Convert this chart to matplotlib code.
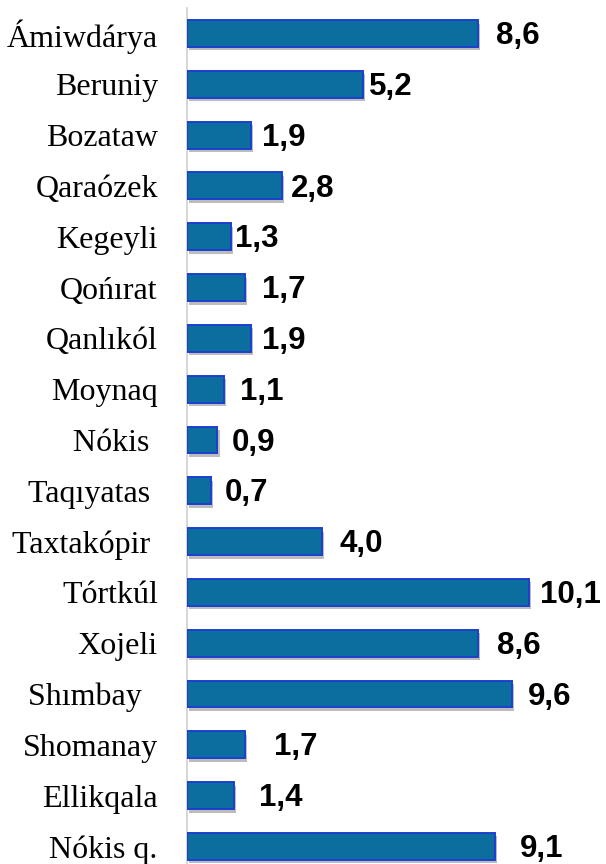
import numpy as np
import matplotlib.pyplot as plt
import matplotlib.patheffects as pe

districts = ['Ámiwdárya', 'Beruniy', 'Bozataw', 'Qaraózek', 'Kegeyli', 'Qońırat',
             'Qanlıkól', 'Moynaq', 'Nókis ', 'Taqıyatas ', 'Taxtakópir ', 'Tórtkúl',
             'Xojeli', 'Shımbay  ', 'Shomanay', 'Ellikqala', 'Nókis q.']
values = [8.6, 5.2, 1.9, 2.8, 1.3, 1.7, 1.9, 1.1, 0.9, 0.7, 4.0, 10.1, 8.6, 9.6, 1.7, 1.4, 9.1]
value_labels = ['8,6', '5,2', '1,9', '2,8', '1,3', '1,7', '1,9', '1,1', '0,9', '0,7',
                '4,0', '10,1', '8,6', '9,6', '1,7', '1,4', '9,1']
# gap between bar end and its value label (pixels)
label_gap = [18, 6, 11, 9, 4, 17, 11, 16, 14, 14, 17, 11, 19, 16, 29, 25, 25]

fig = plt.figure(figsize=(6.06, 8.64), dpi=100)
ax = fig.add_axes([187 / 606, -0.0091, 419 / 606, 0.9997])

y = np.arange(len(districts))
bars = ax.barh(y, values, height=0.53, color='#0b6e9f', edgecolor='#1c3fd0', linewidth=1.4,
               zorder=3)
for b in bars:
    b.set_path_effects([pe.SimplePatchShadow(offset=(1.5, -2.5), shadow_rgbFace='#7a7a7a', alpha=0.5),
                        pe.Normal()])

for yi, v, txt, g in zip(y, values, value_labels, label_gap):
    ax.annotate(txt, (v, yi), xytext=(g * 0.72, -7.6), textcoords='offset points',
                ha='left', va='baseline', fontsize=22.5, fontweight='bold',
                family='Liberation Sans', color='black')

ax.set_xlim(0, 419 / 33.85)
ax.set_ylim(16.5, -0.5)
ax.set_yticks(y)
ax.set_yticklabels(districts, family='Liberation Serif', fontsize=23)
ax.tick_params(axis='y', length=0, pad=21)
ax.set_xticks([])
for s in ['top', 'right', 'bottom']:
    ax.spines[s].set_visible(False)
ax.spines['left'].set_color('#d0d0d0')
ax.spines['left'].set_linewidth(1.2)

fig.savefig('out.png', dpi=100)
